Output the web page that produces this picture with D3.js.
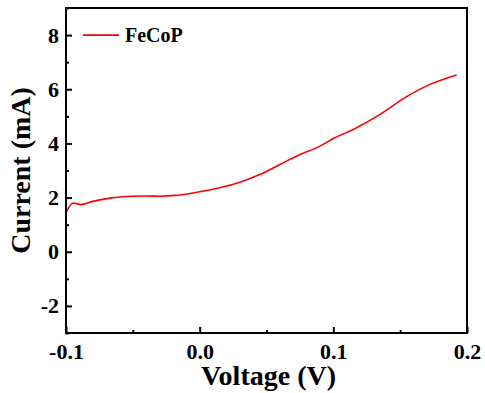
<!DOCTYPE html>
<html>
<head>
<meta charset="utf-8">
<script src="https://cdn.jsdelivr.net/npm/d3@7"></script>
<style>
  html, body { margin: 0; padding: 0; background: #fff; }
  svg { display: block; }
  text { font-family: "Liberation Serif", "Times New Roman", serif; font-weight: bold; }
</style>
</head>
<body>
<svg id="chart" width="485" height="393"></svg>
<script>
// Linear sweep, FeCoP
const voltage = [-0.100, -0.0945, -0.089, -0.080, -0.067, -0.050, -0.040, -0.030, -0.018, -0.005,
                 0.015, 0.030, 0.045, 0.060, 0.075, 0.090, 0.100, 0.116, 0.135, 0.1536,
                 0.1723, 0.1923];
const current = [1.45, 1.80, 1.74, 1.86, 1.98, 2.05, 2.06, 2.05, 2.08, 2.17,
                 2.36, 2.57, 2.85, 3.22, 3.59, 3.90, 4.18, 4.54, 5.07, 5.69,
                 6.18, 6.53];
const xTicks = [-0.1, 0.0, 0.1, 0.2];
const xMinor = [-0.05, 0.05, 0.15];
const yTicks = [-2, 0, 2, 4, 6, 8];
const yMinor = [-3, -1, 1, 3, 5, 7, 9];
const seriesName = "FeCoP";

const svg = d3.select("#chart");
const m = { left: 66, right: 467, top: 8, bottom: 333 };

const x = d3.scaleLinear().domain([-0.1, 0.2]).range([m.left, m.right]);
const y = d3.scaleLinear().domain([-3, 9]).range([m.bottom, m.top]);

// curve
const pts = voltage.map((v, i) => [v, current[i]]);
const line = d3.line().x(d => x(d[0])).y(d => y(d[1])).curve(d3.curveMonotoneX);
svg.append("path")
  .datum(pts)
  .attr("d", line)
  .attr("fill", "none")
  .attr("stroke", "#ff0000")
  .attr("stroke-width", 1.6);

// bottom axis (ticks pointing inward)
const xAxis = svg.append("g").attr("transform", `translate(0,${m.bottom})`)
  .call(d3.axisBottom(x).tickValues(xTicks).tickSize(-6).tickPadding(10));
xAxis.selectAll(".tick text").text(d => d3.format(".1f")(d).replace("−", "-"));
svg.append("g").attr("transform", `translate(0,${m.bottom})`)
  .call(d3.axisBottom(x).tickValues(xMinor).tickSize(-3).tickFormat(""));

// left axis
const yAxis = svg.append("g").attr("transform", `translate(${m.left},0)`)
  .call(d3.axisLeft(y).tickValues(yTicks).tickSize(-6).tickPadding(7));
yAxis.selectAll(".tick text").text(d => String(d));
svg.append("g").attr("transform", `translate(${m.left},0)`)
  .call(d3.axisLeft(y).tickValues(yMinor).tickSize(-3).tickFormat(""));

svg.selectAll(".domain").remove();
svg.selectAll(".tick line").attr("stroke", "#000").attr("stroke-width", 2);
svg.selectAll(".tick text")
  .attr("fill", "#000")
  .style("font-size", "22px")
  .style("font-family", '"Liberation Serif", serif')
  .style("font-weight", "bold");

// frame
svg.append("rect")
  .attr("x", m.left).attr("y", m.top)
  .attr("width", m.right - m.left).attr("height", m.bottom - m.top)
  .attr("fill", "none").attr("stroke", "#000").attr("stroke-width", 2);

// axis titles
svg.append("text")
  .attr("x", (m.left + m.right) / 2 + 2).attr("y", 385)
  .attr("text-anchor", "middle")
  .style("font-size", "28px")
  .text("Voltage (V)");
svg.append("text")
  .attr("transform", `translate(30,${(m.top + m.bottom) / 2}) rotate(-90)`)
  .attr("text-anchor", "middle")
  .style("font-size", "28px")
  .text("Current (mA)");

// legend
svg.append("line")
  .attr("x1", 83).attr("x2", 119)
  .attr("y1", y(8)).attr("y2", y(8))
  .attr("stroke", "#ff0000").attr("stroke-width", 1.6);
svg.append("text")
  .attr("x", 125).attr("y", y(8) + 7)
  .style("font-size", "20px")
  .text(seriesName);
</script>
</body>
</html>
